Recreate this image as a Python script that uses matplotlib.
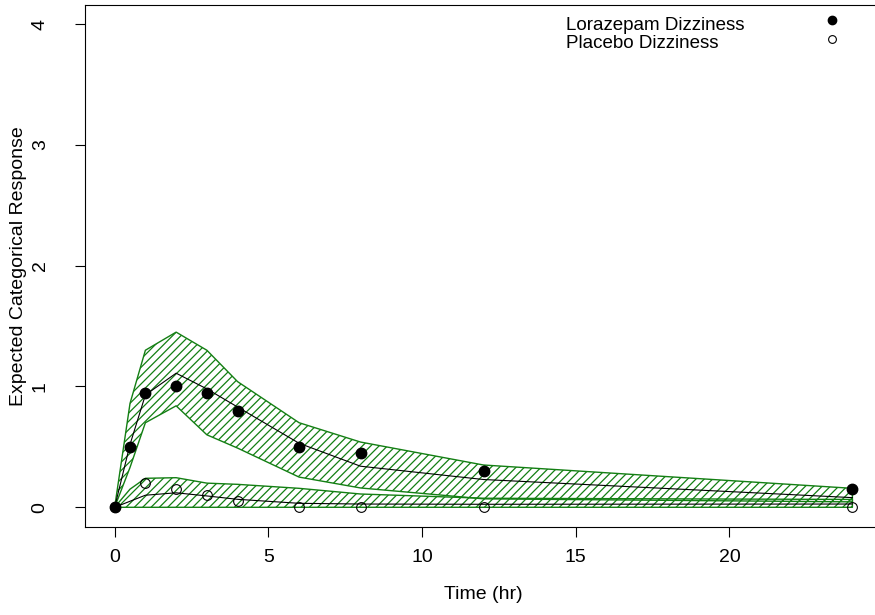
import matplotlib
matplotlib.use("Agg")
import matplotlib.pyplot as plt

plt.rcParams['font.family'] = ['Liberation Sans', 'DejaVu Sans']
plt.rcParams['hatch.linewidth'] = 0.9

# Observed mean categorical response
lor_time = [0, 0.5, 1, 2, 3, 4, 6, 8, 12, 24]
lor_obs = [0, 0.5, 0.95, 1.0, 0.95, 0.8, 0.5, 0.45, 0.3, 0.15]
plc_time = [0, 1, 2, 3, 4, 6, 8, 12, 24]
plc_obs = [0, 0.2, 0.15, 0.1, 0.05, 0, 0, 0, 0]

# Model predictions: median with prediction interval
pred_time = [0, 0.5, 1, 2, 3, 4, 6, 8, 12, 24]
lor_lo = [0, 0.33, 0.70, 0.84, 0.60, 0.49, 0.25, 0.16, 0.07, 0.045]
lor_med = [0, 0.52, 0.93, 1.11, 0.98, 0.83, 0.53, 0.34, 0.23, 0.08]
lor_hi = [0, 0.86, 1.30, 1.45, 1.30, 1.04, 0.70, 0.54, 0.35, 0.157]
plc_lo = [0, 0, 0, 0, 0, 0, 0, 0, 0, 0]
plc_med = [0, 0.05, 0.10, 0.12, 0.094, 0.066, 0.033, 0.027, 0.025, 0.027]
plc_hi = [0, 0.15, 0.24, 0.245, 0.20, 0.19, 0.157, 0.11, 0.075, 0.065]

x_ticks = [0, 5, 10, 15, 20]
y_ticks = [0, 1, 2, 3, 4]
legend_labels = ["Lorazepam Dizziness", "Placebo Dizziness"]

fig = plt.figure(figsize=(8.75, 6.15), dpi=100)
ax = fig.add_axes([0.0973, 0.1437, 0.9106, 0.8486])

band_green = "#137f13"
for lo, med, hi in [(lor_lo, lor_med, lor_hi), (plc_lo, plc_med, plc_hi)]:
    ax.fill_between(pred_time, lo, hi, facecolor="none", edgecolor=band_green,
                    hatch="////", linewidth=1.0)
    ax.plot(pred_time, med, color="black", linewidth=0.8)

h1, = ax.plot(lor_time, lor_obs, "o", color="black", markersize=7.5, linestyle="none")
h2, = ax.plot(plc_time, plc_obs, "o", markerfacecolor="none", markeredgecolor="black",
              markeredgewidth=0.8, markersize=7, linestyle="none")

ax.set_xlim(-0.96, 24.96)
ax.set_ylim(-0.16, 4.16)
ax.set_xticks(x_ticks)
ax.set_yticks(y_ticks)
ax.tick_params(direction="out", length=7.2, width=0.8, labelsize=14)
ax.tick_params(axis="x", pad=9)
ax.tick_params(axis="y", pad=19)
for lab in ax.get_yticklabels():
    lab.set_rotation(90)
    lab.set_va("center")
for s in ax.spines.values():
    s.set_linewidth(0.8)

ax.set_xlabel("Time (hr)", fontsize=14)
ax.set_ylabel("Expected Categorical Response", fontsize=14)
ax.xaxis.set_label_coords(0.5, -0.131)
ax.xaxis.label.set_va("center")
ax.yaxis.set_label_coords(-0.0842, 0.5)
ax.yaxis.label.set_va("center")

# Legend: labels left-aligned, symbols in a column to the right
label_x = 0.6035
label_y = [0.9515, 0.9165]
for txt, yy in zip(legend_labels, label_y):
    ax.text(label_x, yy, txt, transform=ax.transAxes, fontsize=13.5,
            ha="left", va="baseline")
ax.legend([h1, h2], ["", ""], loc="center", bbox_to_anchor=(0.9374, 0.9494),
          frameon=False, fontsize=13.5, handlelength=1.0, handletextpad=0.0,
          labelspacing=0.107, borderpad=0.0, borderaxespad=0.0, markerscale=0.8)

fig.savefig("out.png", dpi=100)
